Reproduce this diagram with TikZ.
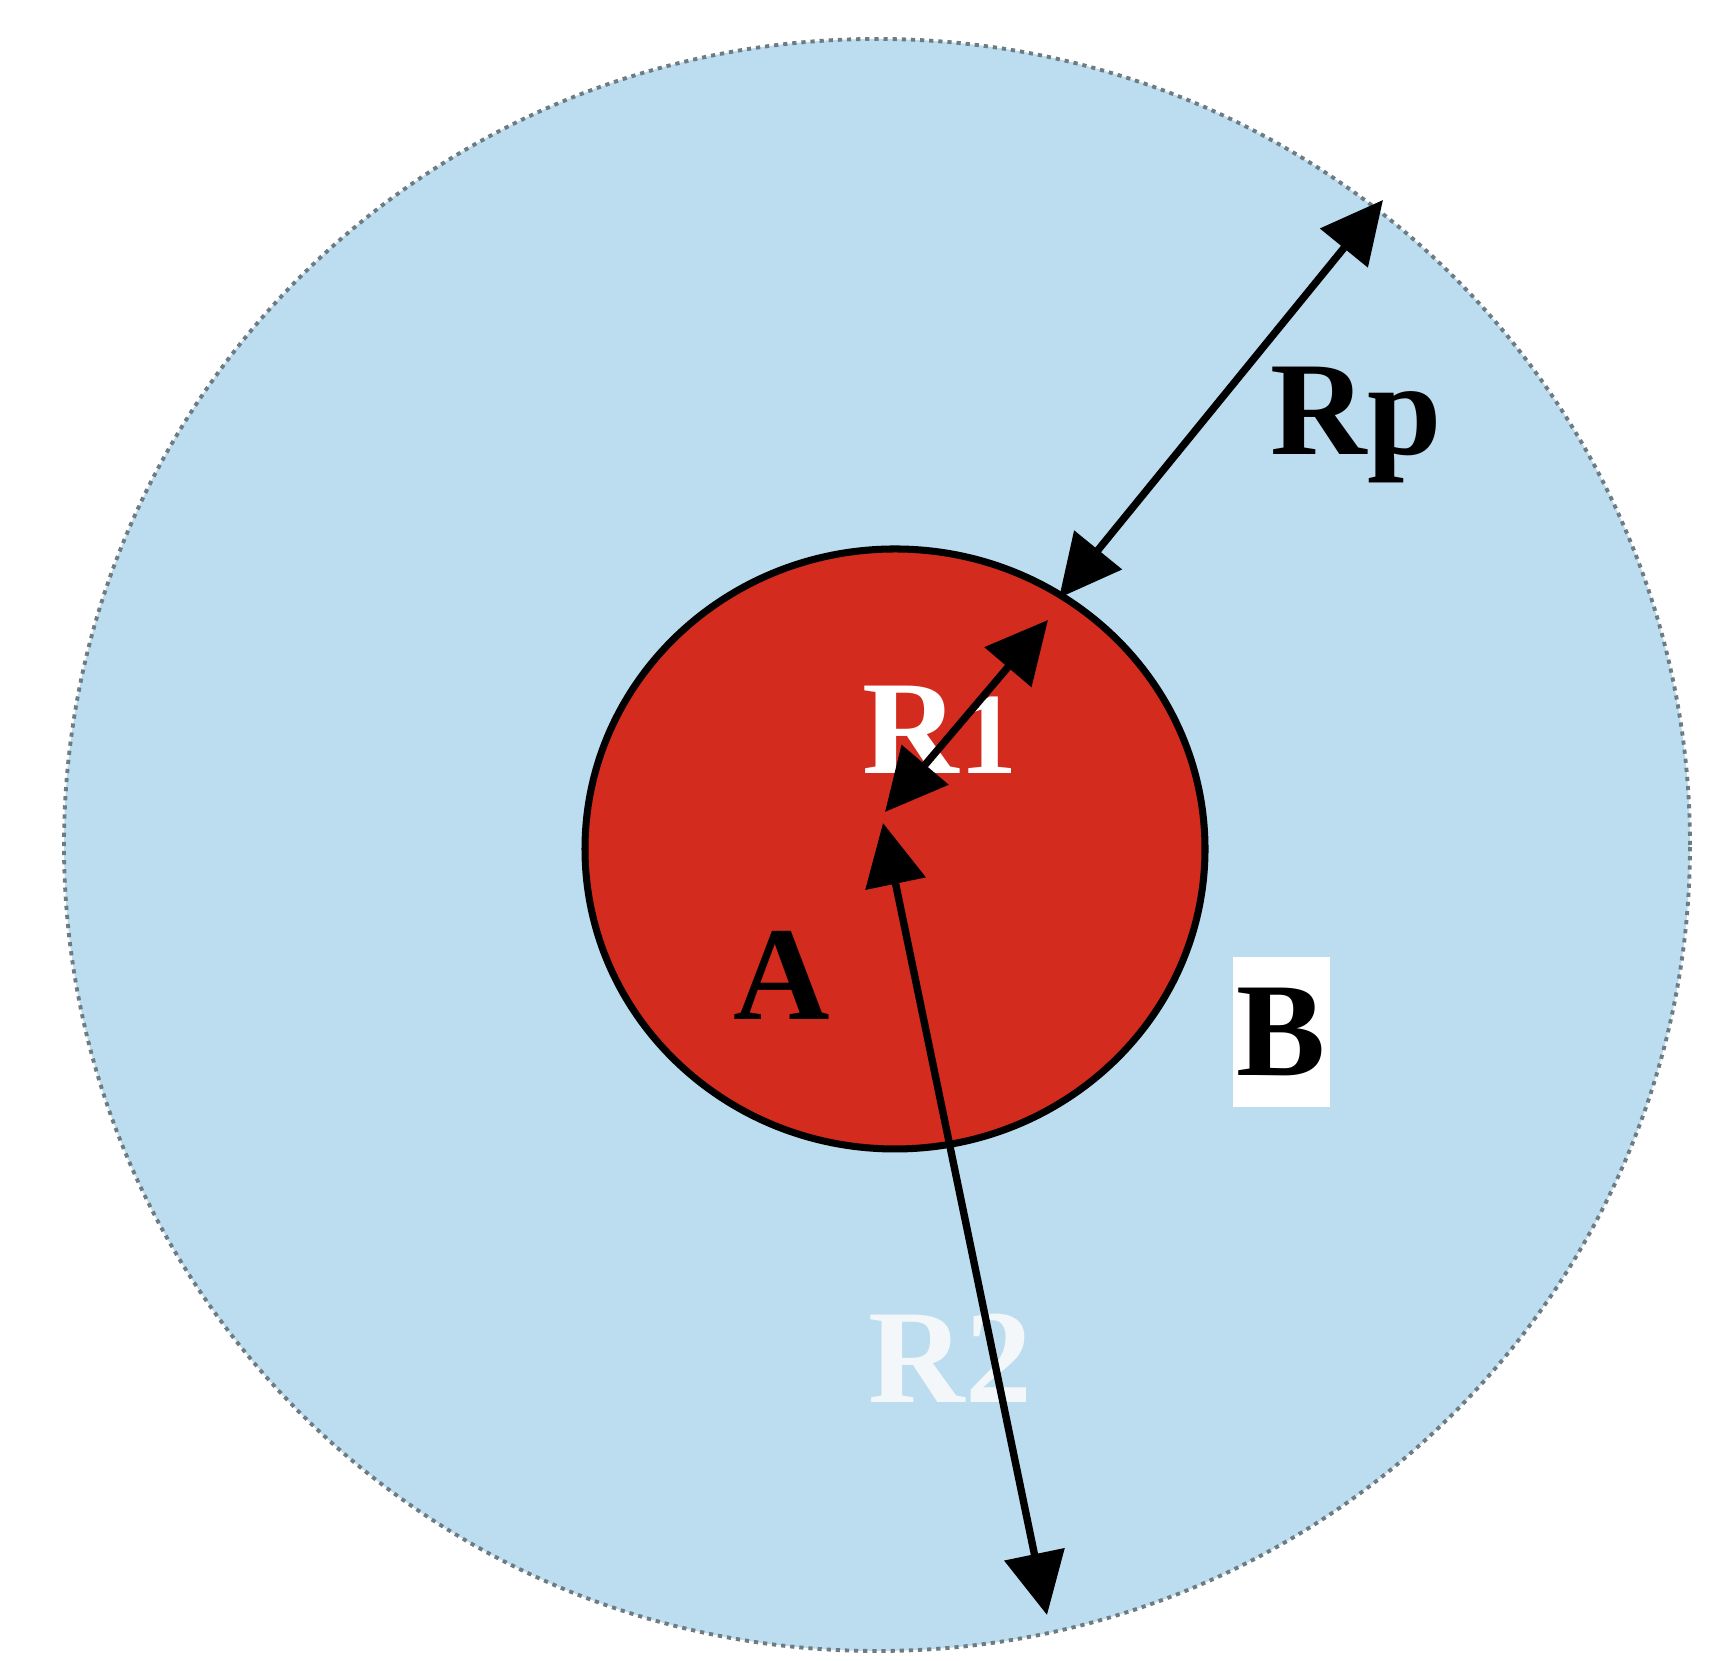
\documentclass[tikz,border=0pt]{standalone}
\usepackage{fontspec}
\setmainfont{Liberation Serif}[BoldFont={Liberation Serif Bold}]
\usepackage{tikz}
\usetikzlibrary{shapes.geometric, arrows.meta, positioning}
\definecolor{zoneblue}{HTML}{BCDCEF}
\definecolor{corered}{HTML}{D42B1F}
\definecolor{rimgray}{HTML}{6E7C82}
\definecolor{palewhite}{HTML}{F4F7FA}
\tikzset{
    zone/.style={ellipse, draw=rimgray, fill=zoneblue, line width=1.1pt, dash pattern=on 1.2pt off 1.4pt, minimum width=16.26cm, minimum height=16.12cm, inner sep=0pt},
    core/.style={ellipse, draw=black, fill=corered, line width=2pt, minimum width=6.2cm, minimum height=6.0cm, inner sep=0pt},
    radius/.style={{Triangle[length=0.62cm, width=0.6cm]}-{Triangle[length=0.62cm, width=0.6cm]}, line width=2.1pt, draw=black},
    lbl/.style={font=\fontsize{38}{40}\selectfont\bfseries, inner sep=0pt, anchor=base west}
}

\begin{document}
\begin{tikzpicture}
        \useasboundingbox (0,0) rectangle (17.26,16.61);
        \node[zone] (outer) at (8.77,8.16) {};
        \node[core] (inner) at (8.95,8.12) {};

        % radius end points
        \coordinate (rpin) at (10.59,10.63);
        \coordinate (rpout) at (13.83,14.61);
        \coordinate (ronec) at (8.85,8.49);
        \coordinate (ronee) at (10.48,10.41);
        \coordinate (rtwoc) at (8.83,8.38);
        \coordinate (rtwoe) at (10.47,0.46);

        \node[lbl, text=black] (rp) at (12.70,12.06) {Rp};
        \node[lbl, text=white] (rone) at (8.62,8.87) {R{\fontsize{33}{34}\selectfont 1}};
        \node[lbl, text=palewhite] (rtwo) at (8.68,2.58) {R2};
        \node[lbl, text=black] (alabel) at (7.33,6.41) {A};
        \node[fill=white, minimum width=0.97cm, minimum height=1.5cm, inner sep=0pt, font=\fontsize{38}{40}\selectfont\bfseries] (blabel) at (12.815,6.29) {B};

        \draw[radius] (rpin) -- (rpout);
        \draw[radius] (ronec) -- (ronee);
        \draw[radius] (rtwoc) -- (rtwoe);
      \end{tikzpicture}
\end{document}
